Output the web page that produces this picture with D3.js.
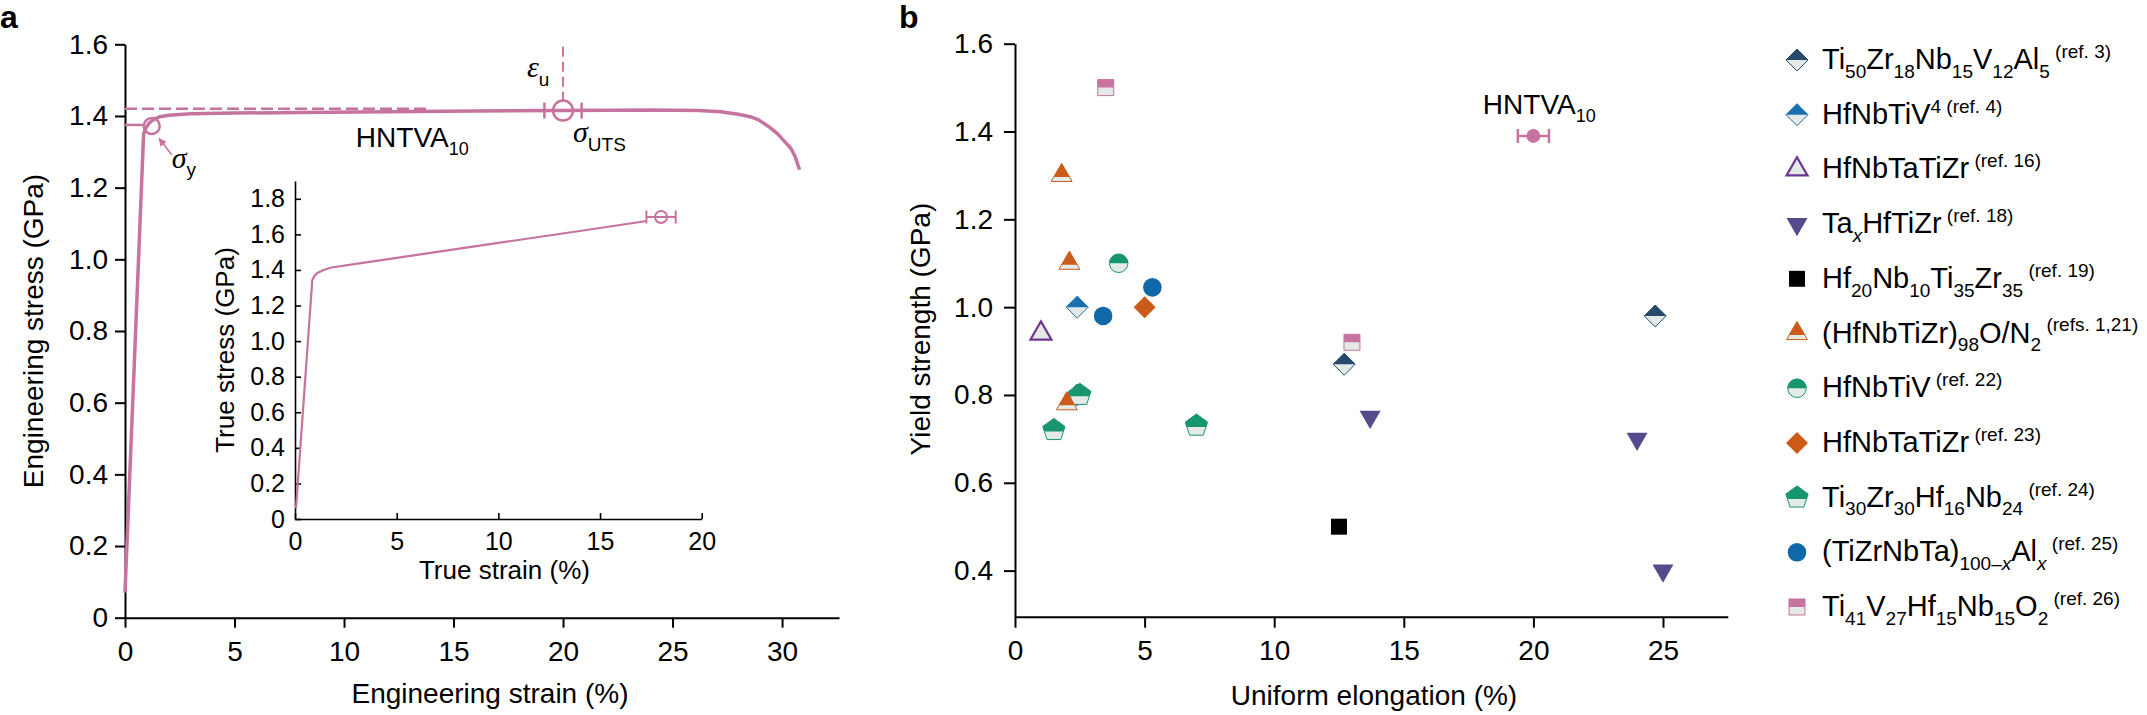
<!DOCTYPE html>
<html>
<head>
<meta charset="utf-8">
<script src="https://cdn.jsdelivr.net/npm/d3@7"></script>
<style>
  body { margin: 0; background: #fff; }
  svg { display: block; }
  text { white-space: pre; }
</style>
</head>
<body>
<svg id="chart"></svg>
<script>
// ---------- panel a : engineering stress-strain (strain %, stress GPa)
var engStrain = [0, 0.85, 0.95, 1.1, 1.3, 1.6, 2.0, 3, 5, 8, 12, 16, 20, 24, 26.2, 27.2, 28.0, 28.6, 28.9, 29.4, 29.8, 30.1, 30.4, 30.6, 30.8];
var engStress = [0.07, 1.35, 1.366, 1.38, 1.39, 1.398, 1.402, 1.406, 1.408, 1.41, 1.412, 1.414, 1.415, 1.417, 1.415, 1.412, 1.405, 1.397, 1.39, 1.37, 1.35, 1.33, 1.31, 1.286, 1.25];
var yieldPoint = [1.22, 1.372];
var yieldLevel = 1.375;
var utsPoint = [20.0, 1.415];
var utsErr = 0.85;
var utsLevel = 1.42;
var utsGuideEnd = 13.8;
var epsTop = 1.593;

// inset : true stress-strain
var trueStrain = [0.05, 0.85, 0.95, 1.1, 1.4, 1.8, 3, 6, 10, 14, 17.3];
var trueStress = [0.06, 1.343, 1.365, 1.383, 1.4, 1.414, 1.434, 1.485, 1.552, 1.619, 1.675];
var trueEnd = [18.0, 1.698];
var trueErr = 0.72;

var engStrainTicks = [0, 5, 10, 15, 20, 25, 30];
var engStressTicks = [0, 0.2, 0.4, 0.6, 0.8, 1.0, 1.2, 1.4, 1.6];
var trueStrainTicks = [0, 5, 10, 15, 20];
var trueStressTicks = [0, 0.2, 0.4, 0.6, 0.8, 1.0, 1.2, 1.4, 1.6, 1.8];

// ---------- panel b : yield strength vs uniform elongation
var elongTicks = [0, 5, 10, 15, 20, 25];
var yieldTicks = [0.4, 0.6, 0.8, 1.0, 1.2, 1.4, 1.6];

var hntva = [20.0, 1.39];
var hntvaErr = 0.6;
var ti50 = [[12.7, 0.87], [24.7, 0.98]];
var hfnbtiv4 = [[2.4, 1.0], [2.4, 0.8]];
var hfnbtatizr16 = [[1.0, 0.94]];
var taxhftizr = [[13.7, 0.75], [24.0, 0.70], [25.0, 0.40]];
var hf20 = [[12.5, 0.5]];
var hfnbtizr98 = [[1.8, 1.3], [2.1, 1.1], [2.0, 0.78]];
var hfnbtiv22 = [[4.0, 1.1]];
var hfnbtatizr23 = [[5.0, 1.0]];
var ti30 = [[1.5, 0.72], [2.5, 0.80], [7.0, 0.73]];
var tizrnbta = [[3.4, 0.98], [5.3, 1.045]];
var ti41 = [[3.5, 1.5], [13.0, 0.92]];

var legendLabels = [
    'Ti_{50}Zr_{18}Nb_{15}V_{12}Al_{5}^{ (ref. 3)}',
    'HfNbTiV^{4 (ref. 4)}',
    'HfNbTaTiZr^{ (ref. 16)}',
    'Ta_{*x*}HfTiZr^{ (ref. 18)}',
    'Hf_{20}Nb_{10}Ti_{35}Zr_{35}^{ (ref. 19)}',
    '(HfNbTiZr)_{98}O/N_{2}^{ (refs. 1,21)}',
    'HfNbTiV^{ (ref. 22)}',
    'HfNbTaTiZr^{ (ref. 23)}',
    'Ti_{30}Zr_{30}Hf_{16}Nb_{24}^{ (ref. 24)}',
    '(TiZrNbTa)_{100\u2013*x*}Al_{*x*}^{ (ref. 25)}',
    'Ti_{41}V_{27}Hf_{15}Nb_{15}O_{2}^{ (ref. 26)}'
];

// ---------- styles
var pink = '#c6739f', light = '#e3eae7';
var font = '"Liberation Sans", Arial, Helvetica, sans-serif';
var serif = '"Liberation Serif", "Times New Roman", serif';

var series = [
    {data: ti50, shape: 'diamond', color: '#264a6e', fill: 'half'},
    {data: hfnbtiv4, shape: 'diamond', color: '#1b6fae', fill: 'half'},
    {data: hfnbtatizr16, shape: 'triangle', color: '#6e3591', fill: 'open'},
    {data: taxhftizr, shape: 'triDown', color: '#554a8c', fill: 'solid'},
    {data: hf20, shape: 'square', color: '#000', fill: 'solid'},
    {data: hfnbtizr98, shape: 'triangle', color: '#cc5b19', fill: 'half'},
    {data: hfnbtiv22, shape: 'circle', color: '#17956f', fill: 'half'},
    {data: hfnbtatizr23, shape: 'diamond', color: '#cc5b19', fill: 'solid'},
    {data: ti30, shape: 'pentagon', color: '#17956f', fill: 'half'},
    {data: tizrnbta, shape: 'circle', color: '#0f69a8', fill: 'solid'},
    {data: ti41, shape: 'square', color: '#c6739f', fill: 'half'}
];
// pentagons sit under the small orange triangle, over the hidden blue diamond
var drawOrder = [0, 1, 8, 2, 3, 4, 5, 6, 7, 9, 10];

var W = 2147, H = 715;
var svg = d3.select('#chart').attr('width', W).attr('height', H)
    .style('font-family', font);
svg.append('rect').attr('width', W).attr('height', H).attr('fill', '#fff');

// ---------- scales
var xA = d3.scaleLinear().domain([0, 32.6]).range([125, 839]);
var yA = d3.scaleLinear().domain([0, 1.6]).range([617.7, 44.3]);
var xI = d3.scaleLinear().domain([0, 20]).range([295, 701.7]);
var yI = d3.scaleLinear().domain([0, 1.9]).range([519, 181]);
var xB = d3.scaleLinear().domain([0, 27.5]).range([1015, 1727.8]);
var yB = d3.scaleLinear().domain([0.295, 1.6]).range([616.7, 43.7]);

var fmt1 = function (d) { return d === 0 ? '0' : d3.format('.1f')(d); };

function styleAxis(g, size, width) {
    g.attr('font-size', size).attr('font-family', font);
    g.selectAll('path, line').attr('stroke', '#000').attr('stroke-width', width);
    g.selectAll('text').attr('fill', '#000');
}

// ---------- defs : clip for half-filled markers, arrow head
var defs = svg.append('defs');
var splits = {diamond: 0, square: 0, circle: 0, triangle: 1.5, pentagon: 1.4};
Object.keys(splits).forEach(function (k) {
    defs.append('clipPath').attr('id', 'clip-' + k)
        .append('rect').attr('x', -20).attr('y', -20)
        .attr('width', 40).attr('height', 20 + splits[k]);
});
defs.append('marker').attr('id', 'arrow')
    .attr('viewBox', '0 0 10 10').attr('refX', 9).attr('refY', 5)
    .attr('markerWidth', 6).attr('markerHeight', 6).attr('orient', 'auto')
    .attr('markerUnits', 'userSpaceOnUse')
    .append('path').attr('d', 'M0,0L10,5L0,10Z').attr('fill', pink);
defs.select('#arrow').attr('markerWidth', 9).attr('markerHeight', 8);

function polygon(n, r, rot) {
    var pts = d3.range(n).map(function (i) {
        var a = (rot + i * 360 / n) * Math.PI / 180;
        return [r * Math.cos(a), r * Math.sin(a)];
    });
    return d3.line()(pts) + 'Z';
}

function shapePath(shape) {
    if (shape === 'circle') return d3.symbol(d3.symbolCircle, Math.PI * 9.3 * 9.3)();
    if (shape === 'diamond') return polygon(4, 11, -90);
    if (shape === 'square') return polygon(4, 11.3, -45);
    if (shape === 'triangle') return polygon(3, 12.1, -90);
    if (shape === 'triDown') return polygon(3, 12.1, 90);
    return polygon(5, 11.7, -90);
}

function drawMarker(parent, x, y, s) {
    var g = parent.append('g').attr('transform', 'translate(' + x + ',' + y + ')');
    var d = shapePath(s.shape);
    if (s.fill === 'solid') {
        g.append('path').attr('d', d).attr('fill', s.color);
    } else if (s.fill === 'open') {
        g.append('path').attr('d', d).attr('fill', light)
            .attr('stroke', s.color).attr('stroke-width', 2.2);
    } else {
        g.append('path').attr('d', d).attr('fill', light)
            .attr('stroke', s.color).attr('stroke-width', 1);
        g.append('path').attr('d', d).attr('fill', s.color)
            .attr('clip-path', 'url(#clip-' + s.shape + ')');
    }
}

// mini markup: _{sub} ^{sup} *italic*
function richText(text, str, size, small) {
    var parts = str.match(/_\{[^}]*\}|\^\{[^}]*\}|[^_^]+/g);
    var shift = 0;
    parts.forEach(function (p) {
        var mode = p[0] === '_' ? 'sub' : (p[0] === '^' ? 'sup' : 'base');
        var txt = mode === 'base' ? p : p.slice(2, -1);
        var target = mode === 'sub' ? size * 0.3 : (mode === 'sup' ? -size * 0.38 : 0);
        txt.split('*').forEach(function (t, k) {
            if (!t) return;
            text.append('tspan')
                .attr('dy', target - shift)
                .attr('font-size', mode === 'base' ? size : small)
                .attr('font-style', k % 2 ? 'italic' : 'normal')
                .text(t);
            shift = target;
        });
    });
    return text;
}

// ================= panel a =================
var gA = svg.append('g');

var axA = gA.append('g').attr('transform', 'translate(0,' + yA(0) + ')')
    .call(d3.axisBottom(xA).tickValues(engStrainTicks).tickSize(10).tickSizeOuter(0).tickPadding(13));
styleAxis(axA, 28, 2);
var ayA = gA.append('g').attr('transform', 'translate(' + xA(0) + ',0)')
    .call(d3.axisLeft(yA).tickValues(engStressTicks).tickFormat(fmt1).tickSize(10).tickSizeOuter(0).tickPadding(7));
styleAxis(ayA, 28, 2);

gA.append('text').attr('x', 490).attr('y', 703).attr('text-anchor', 'middle')
    .attr('font-size', 28).text('Engineering strain (%)');
gA.append('text').attr('transform', 'translate(43,' + yA(0.8) + ') rotate(-90)')
    .attr('text-anchor', 'middle').attr('font-size', 28).text('Engineering stress (GPa)');

// guide lines
gA.append('line').attr('x1', xA(0)).attr('x2', xA(utsGuideEnd))
    .attr('y1', yA(utsLevel)).attr('y2', yA(utsLevel))
    .attr('stroke', pink).attr('stroke-width', 2.5).attr('stroke-dasharray', '12,5');
gA.append('line').attr('x1', xA(utsPoint[0])).attr('x2', xA(utsPoint[0]))
    .attr('y1', yA(epsTop)).attr('y2', yA(utsPoint[1]) - 10)
    .attr('stroke', pink).attr('stroke-width', 2).attr('stroke-dasharray', '10,5');
gA.append('line').attr('x1', xA(0)).attr('x2', xA(0.85))
    .attr('y1', yA(yieldLevel)).attr('y2', yA(yieldLevel))
    .attr('stroke', pink).attr('stroke-width', 2.5);

var engLine = d3.line()
    .x(function (d, i) { return xA(engStrain[i]); })
    .y(function (d, i) { return yA(engStress[i]); });
gA.append('path').attr('d', engLine(engStrain))
    .attr('fill', 'none').attr('stroke', pink).attr('stroke-width', 3.5)
    .attr('stroke-linejoin', 'round');

// yield circle + arrow
gA.append('circle').attr('cx', xA(yieldPoint[0])).attr('cy', yA(yieldPoint[1])).attr('r', 8)
    .attr('fill', 'none').attr('stroke', pink).attr('stroke-width', 2.5);
gA.append('line').attr('x1', xA(2.13)).attr('y1', yA(1.292))
    .attr('x2', xA(1.56)).attr('y2', yA(1.337))
    .attr('stroke', pink).attr('stroke-width', 1.5).attr('marker-end', 'url(#arrow)');

// UTS circle with error bar
var ux = xA(utsPoint[0]), uy = yA(utsPoint[1]);
var ul = xA(utsPoint[0] - utsErr), ur = xA(utsPoint[0] + utsErr);
gA.append('path')
    .attr('d', 'M' + ul + ',' + uy + 'H' + ur + 'M' + ul + ',' + (uy - 8) + 'V' + (uy + 8) + 'M' + ur + ',' + (uy - 8) + 'V' + (uy + 8))
    .attr('fill', 'none').attr('stroke', pink).attr('stroke-width', 2.5);
gA.append('circle').attr('cx', ux).attr('cy', uy).attr('r', 10)
    .attr('fill', 'none').attr('stroke', pink).attr('stroke-width', 2.5);

// annotations
var epsT = gA.append('text').attr('x', ux - 36).attr('y', yA(1.51));
epsT.append('tspan').attr('font-family', serif).attr('font-style', 'italic').attr('font-size', 30).text('\u03b5');
epsT.append('tspan').attr('dy', 9).attr('font-size', 19).text('u');

var sigU = gA.append('text').attr('x', ux + 10).attr('y', yA(1.328));
sigU.append('tspan').attr('font-family', serif).attr('font-style', 'italic').attr('font-size', 30).text('\u03c3');
sigU.append('tspan').attr('dy', 9).attr('font-size', 19).text('UTS');

var sigY = gA.append('text').attr('x', xA(2.13)).attr('y', yA(1.254));
sigY.append('tspan').attr('font-family', serif).attr('font-style', 'italic').attr('font-size', 30).text('\u03c3');
sigY.append('tspan').attr('dy', 8).attr('font-size', 19).text('y');

richText(gA.append('text').attr('x', xA(10.54)).attr('y', yA(1.314)), 'HNTVA_{10}', 28, 18);

// ---------- inset
var gI = gA.append('g');
var axI = gI.append('g').attr('transform', 'translate(0,' + yI(0) + ')')
    .call(d3.axisBottom(xI).tickValues(trueStrainTicks).tickSize(-6).tickSizeOuter(0).tickPadding(13));
styleAxis(axI, 25, 1.6);
var ayI = gI.append('g').attr('transform', 'translate(' + xI(0) + ',0)')
    .call(d3.axisLeft(yI).tickValues(trueStressTicks).tickFormat(fmt1).tickSize(-6).tickSizeOuter(0).tickPadding(10));
styleAxis(ayI, 25, 1.6);

gI.append('text').attr('x', xI(10.3)).attr('y', 579).attr('text-anchor', 'middle')
    .attr('font-size', 26).text('True strain (%)');
gI.append('text').attr('transform', 'translate(234,' + yI(0.95) + ') rotate(-90)')
    .attr('text-anchor', 'middle').attr('font-size', 26).text('True stress (GPa)');

var trueLine = d3.line()
    .x(function (d, i) { return xI(trueStrain[i]); })
    .y(function (d, i) { return yI(trueStress[i]); });
gI.append('path').attr('d', trueLine(trueStrain))
    .attr('fill', 'none').attr('stroke', pink).attr('stroke-width', 2.2);

var tx = xI(trueEnd[0]), ty = yI(trueEnd[1]);
var tl = xI(trueEnd[0] - trueErr), tr = xI(trueEnd[0] + trueErr);
gI.append('path')
    .attr('d', 'M' + tl + ',' + ty + 'H' + tr + 'M' + tl + ',' + (ty - 6.5) + 'V' + (ty + 6.5) + 'M' + tr + ',' + (ty - 6.5) + 'V' + (ty + 6.5))
    .attr('fill', 'none').attr('stroke', pink).attr('stroke-width', 2);
gI.append('circle').attr('cx', tx).attr('cy', ty).attr('r', 6)
    .attr('fill', 'none').attr('stroke', pink).attr('stroke-width', 2);

svg.append('text').attr('x', 0).attr('y', 28).attr('font-size', 32).attr('font-weight', 'bold').text('a');

// ================= panel b =================
var gB = svg.append('g');
var axB = gB.append('g').attr('transform', 'translate(0,' + yB(0.295) + ')')
    .call(d3.axisBottom(xB).tickValues(elongTicks).tickSize(11).tickSizeOuter(0).tickPadding(12));
styleAxis(axB, 28, 2);
var ayB = gB.append('g').attr('transform', 'translate(' + xB(0) + ',0)')
    .call(d3.axisLeft(yB).tickValues(yieldTicks).tickFormat(fmt1).tickSize(11).tickSizeOuter(0).tickPadding(11));
styleAxis(ayB, 28, 2);

gB.append('text').attr('x', 1374).attr('y', 705).attr('text-anchor', 'middle')
    .attr('font-size', 28).text('Uniform elongation (%)');
gB.append('text').attr('transform', 'translate(930,' + yB(0.95) + ') rotate(-90)')
    .attr('text-anchor', 'middle').attr('font-size', 28).text('Yield strength (GPa)');

var gM = gB.append('g');
drawOrder.forEach(function (k) {
    var s = series[k];
    s.data.forEach(function (d) { drawMarker(gM, xB(d[0]), yB(d[1]), s); });
});

// HNTVA10 point
var hx = xB(hntva[0]), hy = yB(hntva[1]);
var hl = xB(hntva[0] - hntvaErr), hr = xB(hntva[0] + hntvaErr);
gB.append('path')
    .attr('d', 'M' + hl + ',' + hy + 'H' + hr + 'M' + hl + ',' + (hy - 7) + 'V' + (hy + 7) + 'M' + hr + ',' + (hy - 7) + 'V' + (hy + 7))
    .attr('fill', 'none').attr('stroke', pink).attr('stroke-width', 2.5);
gB.append('circle').attr('cx', hx).attr('cy', hy).attr('r', 7).attr('fill', pink);
richText(gB.append('text').attr('x', xB(18.05)).attr('y', yB(1.44)), 'HNTVA_{10}', 28, 18);

svg.append('text').attr('x', 899).attr('y', 28).attr('font-size', 32).attr('font-weight', 'bold').text('b');

// ---------- legend
var gL = svg.append('g');
legendLabels.forEach(function (lab, i) {
    var rowY = 60 + i * 54.7;
    drawMarker(gL, 1797, rowY, series[i]);
    richText(gL.append('text').attr('x', 1822).attr('y', rowY + 9), lab, 29, 19);
});
</script>
</body>
</html>
